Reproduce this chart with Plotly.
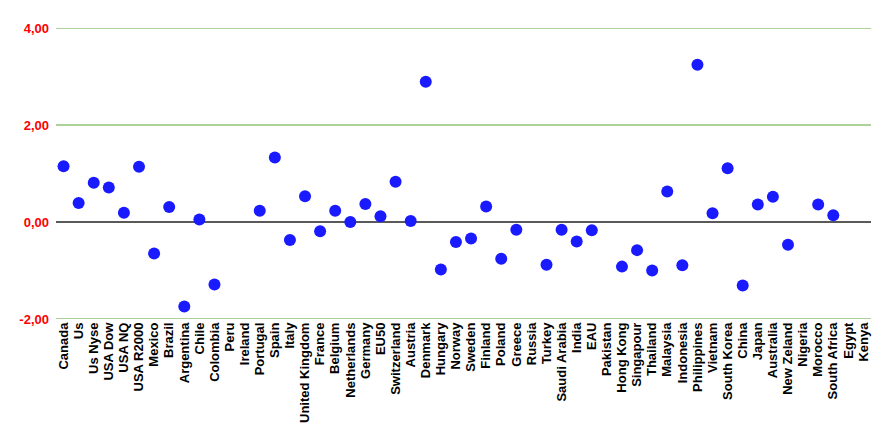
import plotly.graph_objects as go

categories = ["Canada", "Us", "Us Nyse", "USA Dow", "USA NQ", "USA R2000", "Mexico", "Brazil",
              "Argentina", "Chile", "Colombia", "Peru", "Ireland", "Portugal", "Spain", "Italy",
              "United Kingdom", "France", "Belgium", "Netherlands", "Germany", "EU50", "Switzerland",
              "Austria", "Denmark", "Hungary", "Norway", "Sweden", "Finland", "Poland", "Greece",
              "Russia", "Turkey", "Saudi Arabia", "India", "EAU", "Pakistan", "Hong Kong",
              "Singapour", "Thailand", "Malaysia", "Indonesia", "Philippines", "Vietnam",
              "South Korea", "China", "Japan", "Australia", "New Zeland", "Nigeria", "Morocco",
              "South Africa", "Egypt", "Kenya"]

values = [1.15, 0.39, 0.81, 0.71, 0.19, 1.14, -0.65, 0.31,
          -1.74, 0.05, -1.29, None, None, 0.23, 1.33, -0.37,
          0.53, -0.19, 0.23, 0.00, 0.37, 0.12, 0.83,
          0.02, 2.89, -0.98, -0.41, -0.34, 0.32, -0.76, -0.16,
          None, -0.88, -0.16, -0.40, -0.17, None, -0.92,
          -0.58, -1.00, 0.63, -0.89, 3.24, 0.18,
          1.11, -1.31, 0.36, 0.52, -0.47, None, 0.36,
          0.14, None, None]

y_ticks = [-2, 0, 2, 4]
grid_lines = [-2, 2, 4]

fig = go.Figure()

for g in grid_lines:
    fig.add_hline(y=g, line=dict(color="#5aa532", width=1), layer="below")
fig.add_hline(y=0, line=dict(color="#222222", width=1.3), layer="below")

fig.add_trace(go.Scatter(
    x=categories, y=values, mode="markers",
    marker=dict(size=12, color="#1a1aff", line=dict(width=0)),
    showlegend=False, cliponaxis=False,
))

fig.update_layout(
    width=885, height=428,
    margin=dict(l=48, r=22, t=20, b=117),
    paper_bgcolor="white", plot_bgcolor="white",
    font=dict(family="Liberation Sans, Arial, sans-serif", size=13, color="black"),
)
fig.update_xaxes(
    type="category", tickangle=-90, showgrid=False, showline=False, zeroline=False,
    tickvals=categories, ticktext=[f"<b>{c}</b>" for c in categories],
    tickfont=dict(family="Liberation Sans, Arial, sans-serif", size=13, color="black"),
    range=[-0.5, len(categories) - 0.5], ticks="", ticklen=0,
)
fig.update_yaxes(
    range=[-2, 4], tickvals=y_ticks,
    ticktext=["<b>" + f"{v:.2f}".replace(".", ",") + "</b>" for v in y_ticks],
    showgrid=False, zeroline=False,
    showline=False, ticks="", ticklabelstandoff=6,
    tickfont=dict(family="Liberation Sans, Arial, sans-serif", size=13, color="#ff0000"),
)

fig.write_html("out.html")
